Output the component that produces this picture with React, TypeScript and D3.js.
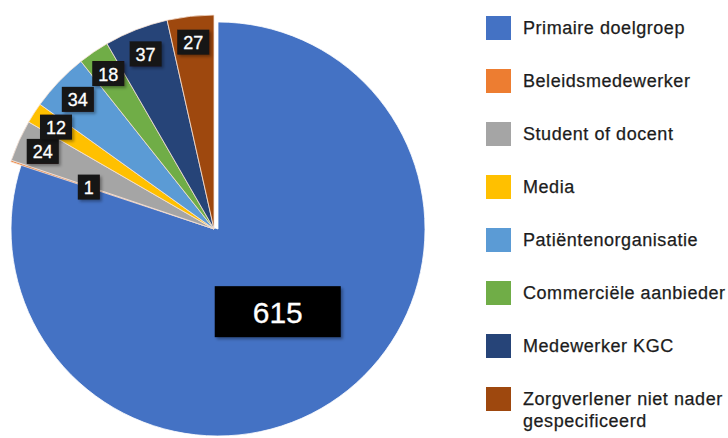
import React, { useEffect, useRef } from 'react'
import * as d3 from 'd3'

const categories = [
  'Primaire doelgroep',
  'Beleidsmedewerker',
  'Student of docent',
  'Media',
  'Patiëntenorganisatie',
  'Commerciële aanbieder',
  'Medewerker KGC',
  'Zorgverlener niet nader gespecificeerd',
]
const values = [615, 1, 24, 12, 34, 18, 37, 27]
const colors = ['#4472c4', '#ed7d31', '#a5a5a5', '#ffc000', '#5b9bd5', '#70ad47', '#264478', '#9e480e']
const legendLines = [
  ['Primaire doelgroep'],
  ['Beleidsmedewerker'],
  ['Student of docent'],
  ['Media'],
  ['Patiëntenorganisatie'],
  ['Commerciële aanbieder'],
  ['Medewerker KGC'],
  ['Zorgverlener niet nader', 'gespecificeerd'],
]

const W = 728
const H = 438
const FONT = '"Liberation Sans", Arial, Helvetica, sans-serif'

export default function App() {
  const svgRef = useRef<SVGSVGElement | null>(null)

  useEffect(() => {
    if (!svgRef.current) return
    const svg = d3.select(svgRef.current)
    svg.selectAll('*').remove()

    const defs = svg.append('defs')
    const f = defs.append('filter').attr('id', 'shadow').attr('x', '-20%').attr('y', '-20%').attr('width', '150%').attr('height', '160%')
    f.append('feDropShadow').attr('dx', 2).attr('dy', 2).attr('stdDeviation', 1.5).attr('flood-color', '#000').attr('flood-opacity', 0.35)

    const pie = d3.pie<number>().value(d => d).sort(null).startAngle(0).endAngle(2 * Math.PI)
    const arcsData = pie(values)

    // main slice sits a touch to the right, small slices are pulled out
    const mainCenter = { x: 218, y: 229 }
    const smallCenter = { x: 214, y: 229 }
    const mainR = 207
    const smallR = 214

    const arcMain = d3.arc<d3.PieArcDatum<number>>().innerRadius(0).outerRadius(mainR)
    const arcSmall = d3.arc<d3.PieArcDatum<number>>().innerRadius(0).outerRadius(smallR)

    const gPie = svg.append('g')
    arcsData.forEach((d, i) => {
      const c = i === 0 ? mainCenter : smallCenter
      gPie.append('path')
        .attr('transform', `translate(${c.x},${c.y})`)
        .attr('d', (i === 0 ? arcMain : arcSmall)(d) as string)
        .attr('fill', colors[i])
        .attr('stroke', i === 0 ? '#ffffff' : '#f6e2d6')
        .attr('stroke-opacity', 0.8)
        .attr('stroke-width', 1)
    })

    // value labels
    const labelRadius = (i: number) => (i === 0 ? 102 : values[i] < 5 ? 132 : 188)
    const gLab = svg.append('g')
    arcsData.forEach((d, i) => {
      const c = i === 0 ? mainCenter : smallCenter
      const r = labelRadius(i)
      const [lx, ly] = d3.arc<d3.PieArcDatum<number>>().innerRadius(r).outerRadius(r).centroid(d)
      const fs = i === 0 ? 30 : 18
      const txt = String(values[i])
      const tw = txt.length * 0.556 * fs
      const bw = i === 0 ? tw + 76 : tw + 12
      const bh = i === 0 ? 51 : 25
      const x = c.x + lx
      const y = c.y + ly
      const g = gLab.append('g').attr('transform', `translate(${x},${y})`)
      g.append('rect')
        .attr('x', -bw / 2).attr('y', -bh / 2)
        .attr('width', bw).attr('height', bh)
        .attr('fill', i === 0 ? '#000000' : '#161212')
        .attr('filter', 'url(#shadow)')
      g.append('text')
        .attr('text-anchor', 'middle')
        .attr('dominant-baseline', 'central')
        .attr('y', 1)
        .attr('fill', '#ffffff')
        .attr('stroke', '#ffffff')
        .attr('stroke-width', 0.3)
        .attr('font-family', FONT)
        .attr('font-size', fs)
        .text(txt)
    })

    // legend
    const y = d3.scaleLinear().domain([0, categories.length - 1]).range([28, 28 + 53 * 7])
    const gLeg = svg.append('g')
    categories.forEach((_, i) => {
      gLeg.append('rect')
        .attr('x', 486).attr('y', y(i) - 12)
        .attr('width', 25).attr('height', 24)
        .attr('fill', colors[i])
      const t = gLeg.append('text')
        .attr('x', 523)
        .attr('y', y(i))
        .attr('dominant-baseline', 'central')
        .attr('fill', '#1c1c1c')
        .attr('stroke', '#1c1c1c')
        .attr('stroke-width', 0.25)
        .attr('font-family', FONT)
        .attr('font-size', 18)
        .attr('letter-spacing', 0.55)
      legendLines[i].forEach((line, j) => {
        t.append('tspan').attr('x', 523).attr('dy', j === 0 ? 0 : 22).text(line)
      })
    })
  }, [])

  return (
    <svg
      ref={svgRef}
      width={W}
      height={H}
      style={{ position: 'absolute', left: 0, top: 0, background: '#ffffff', display: 'block' }}
    />
  )
}
